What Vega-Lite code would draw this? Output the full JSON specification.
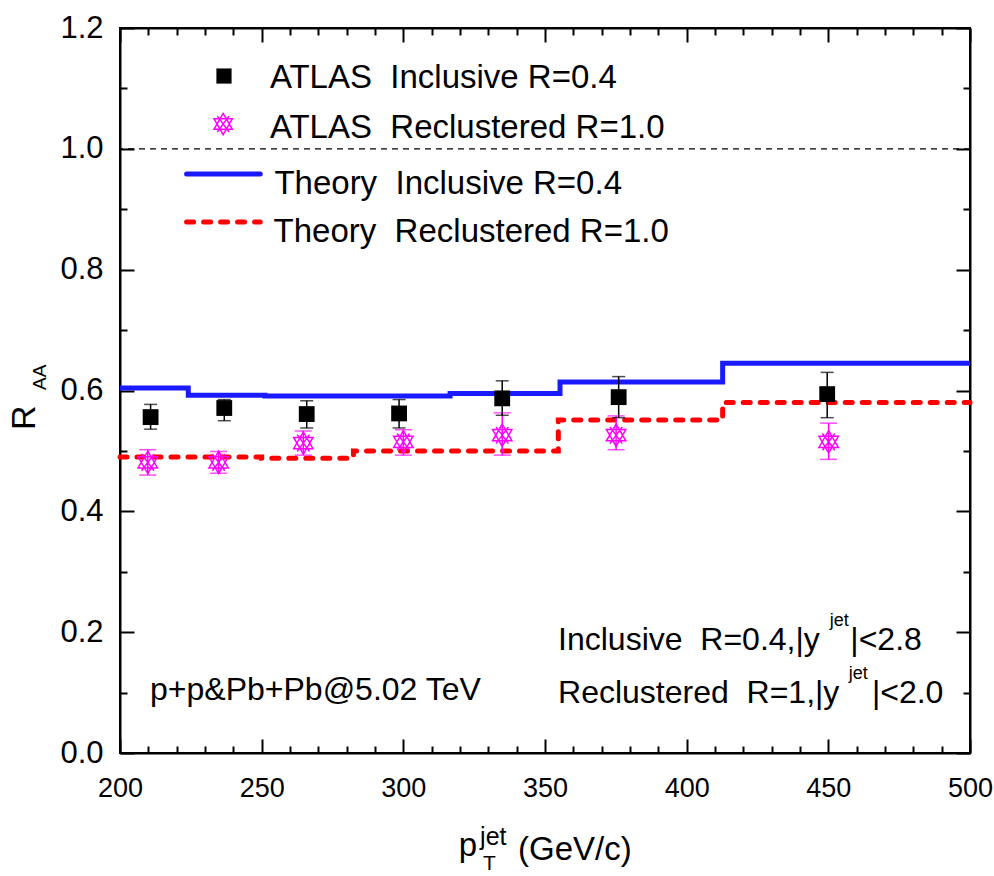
{
  "$schema": "https://vega.github.io/schema/vega-lite/v6.json",
  "width": 850,
  "height": 725,
  "autosize": {"type": "none"},
  "padding": {"left": 120, "top": 28, "right": 24, "bottom": 123},
  "background": "white",
  "datasets": {
    "t1": [
      {"pt": 200, "raa": 0.604},
      {"pt": 224.1, "raa": 0.592},
      {"pt": 251.2, "raa": 0.591},
      {"pt": 316.5, "raa": 0.595},
      {"pt": 355.3, "raa": 0.614},
      {"pt": 412.7, "raa": 0.645},
      {"pt": 500, "raa": 0.645}
    ],
    "t2": [
      {"pt": 200, "raa": 0.490},
      {"pt": 250, "raa": 0.488},
      {"pt": 282.4, "raa": 0.500},
      {"pt": 354.7, "raa": 0.551},
      {"pt": 412.7, "raa": 0.580},
      {"pt": 500, "raa": 0.580}
    ],
    "a1": [
      {"pt": 210.8, "raa": 0.556, "lo": 0.536, "hi": 0.577},
      {"pt": 236.8, "raa": 0.571, "lo": 0.550, "hi": 0.585},
      {"pt": 265.9, "raa": 0.561, "lo": 0.538, "hi": 0.583},
      {"pt": 298.5, "raa": 0.562, "lo": 0.538, "hi": 0.585},
      {"pt": 334.9, "raa": 0.587, "lo": 0.559, "hi": 0.616},
      {"pt": 376.0, "raa": 0.589, "lo": 0.555, "hi": 0.623},
      {"pt": 449.6, "raa": 0.594, "lo": 0.555, "hi": 0.630}
    ],
    "a2": [
      {"pt": 209.8, "raa": 0.481, "lo": 0.460, "hi": 0.502},
      {"pt": 234.8, "raa": 0.481, "lo": 0.463, "hi": 0.499},
      {"pt": 264.7, "raa": 0.513, "lo": 0.493, "hi": 0.533},
      {"pt": 300.0, "raa": 0.515, "lo": 0.493, "hi": 0.535},
      {"pt": 334.9, "raa": 0.526, "lo": 0.493, "hi": 0.563},
      {"pt": 375.1, "raa": 0.526, "lo": 0.502, "hi": 0.558},
      {"pt": 450.1, "raa": 0.515, "lo": 0.486, "hi": 0.546}
    ],
    "one": [{}]
  },
  "layer": [
    {
      "layer": [
        {
          "data": {"name": "t1"},
          "mark": {"type": "line", "interpolate": "step-after", "color": "#1a1aff", "strokeWidth": 5},
          "encoding": {
            "x": {"field": "pt", "type": "quantitative",
              "scale": {"domain": [200, 500], "nice": false, "zero": false},
              "axis": {"orient": "bottom", "title": null, "values": [200, 250, 300, 350, 400, 450, 500], "format": "d"}
            },
            "y": {"field": "raa", "type": "quantitative",
              "scale": {"domain": [0, 1.2], "nice": false, "zero": false},
              "axis": {"orient": "left", "title": null, "values": [0, 0.2, 0.4, 0.6, 0.8, 1.0, 1.2], "format": ".1f"}
            }
          }
        },
        {
          "data": {"name": "one"},
          "mark": {"type": "rule", "color": "black", "strokeWidth": 1.2, "strokeDash": [6, 5]},
          "encoding": {"y": {"datum": 1.0, "type": "quantitative"}}
        },
        {
          "data": {"name": "t2"},
          "mark": {"type": "line", "interpolate": "step-after", "color": "#ff0000", "strokeWidth": 5, "strokeDash": [7, 10], "strokeCap": "round"},
          "encoding": {
            "x": {"field": "pt", "type": "quantitative"},
            "y": {"field": "raa", "type": "quantitative"}
          }
        },
        {
          "data": {"name": "a2"},
          "mark": {"type": "errorbar", "ticks": {"size": 17, "thickness": 1.5, "color": "#ff00ff"}, "rule": {"strokeWidth": 1.5, "color": "#ff00ff"}},
          "encoding": {
            "x": {"field": "pt", "type": "quantitative"},
            "y": {"field": "lo", "type": "quantitative"},
            "y2": {"field": "hi"}
          }
        },
        {
          "data": {"name": "a2"},
          "mark": {"type": "point", "shape": "M0,-1L0.866,0.5L-0.866,0.5Z M0,1L0.866,-0.5L-0.866,-0.5Z M-0.55,-0.75L0.55,0.75 M0.55,-0.75L-0.55,0.75", "size": 500, "filled": false, "stroke": "#ff00ff", "strokeWidth": 1.5, "opacity": 1},
          "encoding": {
            "x": {"field": "pt", "type": "quantitative"},
            "y": {"field": "raa", "type": "quantitative"}
          }
        },
        {
          "data": {"name": "a1"},
          "mark": {"type": "errorbar", "ticks": {"size": 13, "thickness": 1.5, "color": "black"}, "rule": {"strokeWidth": 1.5, "color": "black"}},
          "encoding": {
            "x": {"field": "pt", "type": "quantitative"},
            "y": {"field": "lo", "type": "quantitative"},
            "y2": {"field": "hi"}
          }
        },
        {
          "data": {"name": "a1"},
          "mark": {"type": "point", "shape": "square", "size": 250, "filled": true, "color": "black", "opacity": 1},
          "encoding": {
            "x": {"field": "pt", "type": "quantitative"},
            "y": {"field": "raa", "type": "quantitative"}
          }
        },
        {
          "data": {"name": "one"},
          "mark": {"type": "point", "shape": "square", "size": 230, "filled": true, "color": "black", "opacity": 1},
          "encoding": {"x": {"datum": 236.7}, "y": {"datum": 1.1205}}
        },
        {
          "data": {"name": "one"},
          "mark": {"type": "point", "shape": "M0,-1L0.866,0.5L-0.866,0.5Z M0,1L0.866,-0.5L-0.866,-0.5Z M-0.55,-0.75L0.55,0.75 M0.55,-0.75L-0.55,0.75", "size": 450, "filled": false, "stroke": "#ff00ff", "strokeWidth": 1.5, "opacity": 1},
          "encoding": {"x": {"datum": 236.4}, "y": {"datum": 1.041}}
        },
        {
          "data": {"name": "one"},
          "mark": {"type": "rule", "color": "#1a1aff", "strokeWidth": 5, "strokeCap": "round"},
          "encoding": {"x": {"datum": 223.5}, "x2": {"datum": 249.5}, "y": {"datum": 0.9583}}
        },
        {
          "data": {"name": "one"},
          "mark": {"type": "rule", "color": "#ff0000", "strokeWidth": 5, "strokeDash": [7, 10], "strokeCap": "round"},
          "encoding": {"x": {"datum": 223.5}, "x2": {"datum": 249.5}, "y": {"datum": 0.8789}}
        },
        {
          "data": {"name": "one"},
          "mark": {"type": "text", "text": "ATLAS\u00a0 Inclusive R=0.4", "align": "left", "baseline": "alphabetic", "font": "Liberation Sans", "fontSize": 33, "color": "black"},
          "encoding": {"x": {"datum": 252.9}, "y": {"datum": 1.1006}}
        },
        {
          "data": {"name": "one"},
          "mark": {"type": "text", "text": "ATLAS\u00a0 Reclustered R=1.0", "align": "left", "baseline": "alphabetic", "font": "Liberation Sans", "fontSize": 33, "color": "black"},
          "encoding": {"x": {"datum": 252.9}, "y": {"datum": 1.0179}}
        },
        {
          "data": {"name": "one"},
          "mark": {"type": "text", "text": "Theory\u00a0 Inclusive R=0.4", "align": "left", "baseline": "alphabetic", "font": "Liberation Sans", "fontSize": 33, "color": "black"},
          "encoding": {"x": {"datum": 254.5}, "y": {"datum": 0.9252}}
        },
        {
          "data": {"name": "one"},
          "mark": {"type": "text", "text": "Theory\u00a0 Reclustered R=1.0", "align": "left", "baseline": "alphabetic", "font": "Liberation Sans", "fontSize": 33, "color": "black"},
          "encoding": {"x": {"datum": 254.2}, "y": {"datum": 0.8457}}
        },
        {
          "data": {"name": "one"},
          "mark": {"type": "text", "text": "p+p&Pb+Pb@5.02 TeV", "align": "left", "baseline": "alphabetic", "font": "Liberation Sans", "fontSize": 32, "color": "black"},
          "encoding": {"x": {"datum": 210.6}, "y": {"datum": 0.0877}}
        },
        {
          "data": {"name": "one"},
          "mark": {"type": "text", "text": "Inclusive\u00a0 R=0.4,|y", "align": "left", "baseline": "alphabetic", "font": "Liberation Sans", "fontSize": 32, "color": "black"},
          "encoding": {"x": {"datum": 354.6}, "y": {"datum": 0.1705}}
        },
        {
          "data": {"name": "one"},
          "mark": {"type": "text", "text": "jet", "align": "left", "baseline": "alphabetic", "font": "Liberation Sans", "fontSize": 18, "color": "black"},
          "encoding": {"x": {"datum": 450.5}, "y": {"datum": 0.211}}
        },
        {
          "data": {"name": "one"},
          "mark": {"type": "text", "text": "|<2.8", "align": "right", "baseline": "alphabetic", "font": "Liberation Sans", "fontSize": 32, "color": "black"},
          "encoding": {"x": {"datum": 483.0}, "y": {"datum": 0.1705}}
        },
        {
          "data": {"name": "one"},
          "mark": {"type": "text", "text": "Reclustered\u00a0 R=1,|y", "align": "left", "baseline": "alphabetic", "font": "Liberation Sans", "fontSize": 32, "color": "black"},
          "encoding": {"x": {"datum": 354.6}, "y": {"datum": 0.0823}}
        },
        {
          "data": {"name": "one"},
          "mark": {"type": "text", "text": "jet", "align": "left", "baseline": "alphabetic", "font": "Liberation Sans", "fontSize": 18, "color": "black"},
          "encoding": {"x": {"datum": 457.2}, "y": {"datum": 0.122}}
        },
        {
          "data": {"name": "one"},
          "mark": {"type": "text", "text": "|<2.0", "align": "right", "baseline": "alphabetic", "font": "Liberation Sans", "fontSize": 32, "color": "black"},
          "encoding": {"x": {"datum": 490.6}, "y": {"datum": 0.0823}}
        },
        {
          "data": {"name": "one"},
          "mark": {"type": "text", "text": "p", "align": "left", "baseline": "alphabetic", "font": "Liberation Sans", "fontSize": 33, "color": "black"},
          "encoding": {"x": {"datum": 319.6}, "y": {"datum": -0.1705}}
        },
        {
          "data": {"name": "one"},
          "mark": {"type": "text", "text": "jet", "align": "left", "baseline": "alphabetic", "font": "Liberation Sans", "fontSize": 25, "color": "black"},
          "encoding": {"x": {"datum": 327.1}, "y": {"datum": -0.1523}}
        },
        {
          "data": {"name": "one"},
          "mark": {"type": "text", "text": "T", "align": "left", "baseline": "alphabetic", "font": "Liberation Sans", "fontSize": 21, "color": "black"},
          "encoding": {"x": {"datum": 328.1}, "y": {"datum": -0.1936}}
        },
        {
          "data": {"name": "one"},
          "mark": {"type": "text", "text": "(GeV/c)", "align": "left", "baseline": "alphabetic", "font": "Liberation Sans", "fontSize": 33, "color": "black"},
          "encoding": {"x": {"datum": 340.5}, "y": {"datum": -0.177}}
        },
        {
          "data": {"name": "one"},
          "mark": {"type": "text", "text": "R", "angle": 270, "align": "left", "baseline": "alphabetic", "font": "Liberation Sans", "fontSize": 34, "color": "black"},
          "encoding": {"x": {"datum": 170.0}, "y": {"datum": 0.5346}}
        },
        {
          "data": {"name": "one"},
          "mark": {"type": "text", "text": "AA", "angle": 270, "align": "left", "baseline": "alphabetic", "font": "Liberation Sans", "fontSize": 19, "color": "black"},
          "encoding": {"x": {"datum": 173.9}, "y": {"datum": 0.6008}}
        }
      ]
    },
    {
      "data": {"name": "one"},
      "mark": {"type": "point", "opacity": 0},
      "encoding": {
        "x": {"datum": 200, "type": "quantitative",
          "scale": {"domain": [200, 500], "nice": false, "zero": false},
          "axis": {"orient": "bottom", "title": null, "labels": false, "domain": false, "tickSize": -7,
            "values": [210, 220, 230, 240, 260, 270, 280, 290, 310, 320, 330, 340, 360, 370, 380, 390, 410, 420, 430, 440, 460, 470, 480, 490]}
        },
        "y": {"datum": 0, "type": "quantitative",
          "scale": {"domain": [0, 1.2], "nice": false, "zero": false},
          "axis": {"orient": "left", "title": null, "labels": false, "domain": false, "tickSize": -7,
            "values": [0.1, 0.3, 0.5, 0.7, 0.9, 1.1]}
        }
      }
    },
    {
      "data": {"name": "one"},
      "mark": {"type": "point", "opacity": 0},
      "encoding": {
        "x": {"datum": 200, "type": "quantitative",
          "scale": {"domain": [200, 500], "nice": false, "zero": false},
          "axis": {"orient": "top", "title": null, "labels": false, "tickSize": -14,
            "values": [200, 250, 300, 350, 400, 450, 500]}
        },
        "y": {"datum": 0, "type": "quantitative",
          "scale": {"domain": [0, 1.2], "nice": false, "zero": false},
          "axis": {"orient": "right", "title": null, "labels": false, "tickSize": -14,
            "values": [0, 0.2, 0.4, 0.6, 0.8, 1.0, 1.2]}
        }
      }
    },
    {
      "data": {"name": "one"},
      "mark": {"type": "point", "opacity": 0},
      "encoding": {
        "x": {"datum": 200, "type": "quantitative",
          "scale": {"domain": [200, 500], "nice": false, "zero": false},
          "axis": {"orient": "top", "title": null, "labels": false, "domain": false, "tickSize": -7,
            "values": [210, 220, 230, 240, 260, 270, 280, 290, 310, 320, 330, 340, 360, 370, 380, 390, 410, 420, 430, 440, 460, 470, 480, 490]}
        },
        "y": {"datum": 0, "type": "quantitative",
          "scale": {"domain": [0, 1.2], "nice": false, "zero": false},
          "axis": {"orient": "right", "title": null, "labels": false, "domain": false, "tickSize": -7,
            "values": [0.1, 0.3, 0.5, 0.7, 0.9, 1.1]}
        }
      }
    }
  ],
  "resolve": {"scale": {"x": "independent", "y": "independent"}},
  "config": {
    "view": {"stroke": "black", "strokeWidth": 2},
    "axis": {
      "grid": false,
      "domainColor": "black",
      "domainWidth": 2,
      "tickColor": "black",
      "tickWidth": 2,
      "labelColor": "black",
      "labelFont": "Liberation Sans",
      "labelOverlap": false,
      "labelFlush": false
    },
    "axisBottom": {"tickSize": -14, "labelPadding": 36, "labelFontSize": 27},
    "axisLeft": {"tickSize": -14, "labelPadding": 31, "labelFontSize": 31},
    "axisTop": {"tickSize": -14},
    "axisRight": {"tickSize": -14}
  }
}
